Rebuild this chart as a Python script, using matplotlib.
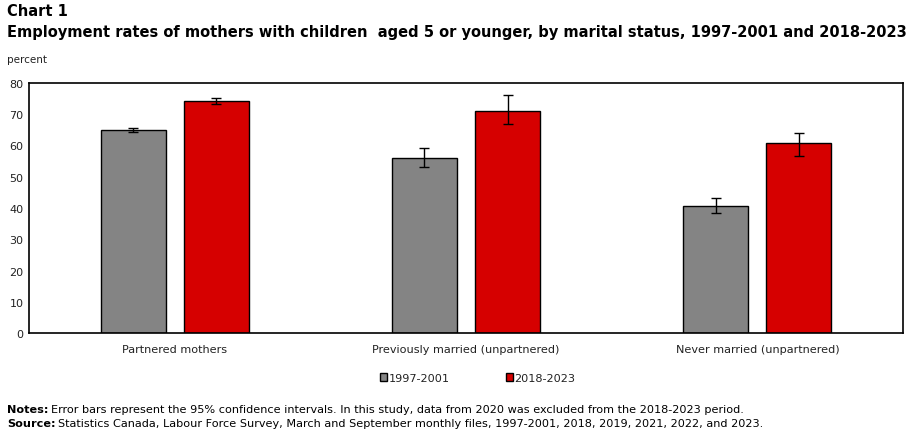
import matplotlib.pyplot as plt
import numpy as np

categories = ['Partnered mothers', 'Previously married (unpartnered)', 'Never married (unpartnered)']
series_names = ['1997-2001', '2018-2023']
rate_1997 = [64.9, 55.9, 40.5]
low_1997 = [64.3, 53.0, 38.3]
high_1997 = [65.6, 59.1, 43.1]
rate_2018 = [74.1, 70.9, 60.7]
low_2018 = [73.2, 66.9, 56.5]
high_2018 = [75.1, 76.2, 63.9]
y_ticks = [0, 10, 20, 30, 40, 50, 60, 70, 80]

colours = ['#848484', '#d60000']

fig = plt.figure(figsize=(9.11, 4.35), dpi=100)
ax = fig.add_axes([29 / 911, 1 - 334 / 435, (903 - 29) / 911, (334 - 84) / 435])

x = np.arange(len(categories))
width = 0.223
offset = 0.1425

series = [(rate_1997, low_1997, high_1997), (rate_2018, low_2018, high_2018)]
for k, (vals, lo, hi) in enumerate(series):
    vals = np.array(vals)
    err = [vals - np.array(lo), np.array(hi) - vals]
    pos = x + (offset if k else -offset)
    ax.bar(pos, vals, width, color=colours[k], edgecolor='black', linewidth=1,
           label=series_names[k], zorder=2)
    ax.errorbar(pos, vals, yerr=err, fmt='none', ecolor='black', elinewidth=1,
                capsize=3.5, capthick=1, zorder=3)

ax.set_xlim(-0.5, 2.5)
ax.set_ylim(0, 80)
ax.set_yticks(y_ticks)
ax.set_xticks(x)
ax.set_xticklabels(categories, fontsize=8.1, color='#222222')
ax.tick_params(axis='y', labelsize=8, length=0, pad=4, labelcolor='#222222')
ax.tick_params(axis='x', length=0, pad=8)
for s in ax.spines.values():
    s.set_linewidth(1.2)

leg = fig.legend(loc='center', bbox_to_anchor=(478 / 911, 1 - 379 / 435), ncol=2,
                 frameon=False, fontsize=8.1, handlelength=0.6, handleheight=0.6,
                 handletextpad=0.15, columnspacing=5.0, borderaxespad=0)
for t in leg.get_texts():
    t.set_color('#222222')

fig.text(7 / 911, 1 - 12 / 435, 'Chart 1', fontsize=10.5, fontweight='bold', va='center')
fig.text(7 / 911, 1 - 32 / 435,
         'Employment rates of mothers with children  aged 5 or younger, by marital status, 1997-2001 and 2018-2023',
         fontsize=10.5, fontweight='bold', va='center')
fig.text(7 / 911, 1 - 60 / 435, 'percent', fontsize=7.5, va='center', color='#222222')

# footnotes: bold prefix followed by normal text
notes = [('Notes:', 'Error bars represent the 95% confidence intervals. In this study, data from 2020 was excluded from the 2018-2023 period.', 410),
         ('Source:', 'Statistics Canada, Labour Force Survey, March and September monthly files, 1997-2001, 2018, 2019, 2021, 2022, and 2023.', 424)]
renderer = fig.canvas.get_renderer()
for head, body, ypix in notes:
    t = fig.text(7 / 911, 1 - ypix / 435, head, fontsize=8.1, fontweight='bold', va='center')
    bb = t.get_window_extent(renderer)
    fig.text((bb.x1 + 3) / 911, 1 - ypix / 435, body, fontsize=8.1, va='center')

fig.savefig('out.png', dpi=100)
